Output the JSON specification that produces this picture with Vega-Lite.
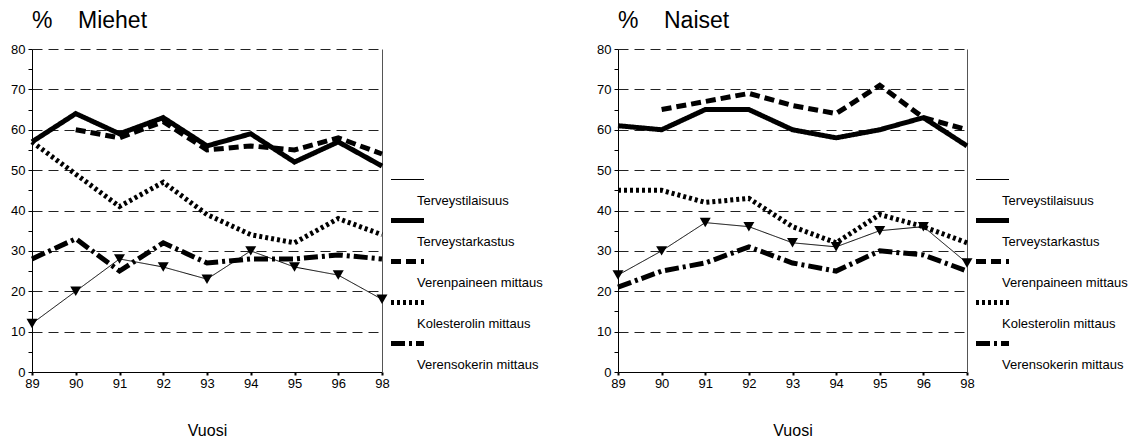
{
  "$schema": "https://vega.github.io/schema/vega-lite/v6.json",
  "padding": {"left": 10, "top": 10, "right": 5, "bottom": 5},
  "config": {"font": "Liberation Sans", "view": {"stroke": null}},
  "datasets": {
    "miehet": [
      {"s": "Terveystilaisuus", "x": "89", "v": 12}, {"s": "Terveystilaisuus", "x": "90", "v": 20}, {"s": "Terveystilaisuus", "x": "91", "v": 28}, {"s": "Terveystilaisuus", "x": "92", "v": 26}, {"s": "Terveystilaisuus", "x": "93", "v": 23}, {"s": "Terveystilaisuus", "x": "94", "v": 30}, {"s": "Terveystilaisuus", "x": "95", "v": 26}, {"s": "Terveystilaisuus", "x": "96", "v": 24}, {"s": "Terveystilaisuus", "x": "98", "v": 18},
      {"s": "Terveystarkastus", "x": "89", "v": 57}, {"s": "Terveystarkastus", "x": "90", "v": 64}, {"s": "Terveystarkastus", "x": "91", "v": 59}, {"s": "Terveystarkastus", "x": "92", "v": 63}, {"s": "Terveystarkastus", "x": "93", "v": 56}, {"s": "Terveystarkastus", "x": "94", "v": 59}, {"s": "Terveystarkastus", "x": "95", "v": 52}, {"s": "Terveystarkastus", "x": "96", "v": 57}, {"s": "Terveystarkastus", "x": "98", "v": 51},
      {"s": "Verenpaineen mittaus", "x": "90", "v": 60}, {"s": "Verenpaineen mittaus", "x": "91", "v": 58}, {"s": "Verenpaineen mittaus", "x": "92", "v": 62}, {"s": "Verenpaineen mittaus", "x": "93", "v": 55}, {"s": "Verenpaineen mittaus", "x": "94", "v": 56}, {"s": "Verenpaineen mittaus", "x": "95", "v": 55}, {"s": "Verenpaineen mittaus", "x": "96", "v": 58}, {"s": "Verenpaineen mittaus", "x": "98", "v": 54},
      {"s": "Kolesterolin mittaus", "x": "89", "v": 57}, {"s": "Kolesterolin mittaus", "x": "90", "v": 49}, {"s": "Kolesterolin mittaus", "x": "91", "v": 41}, {"s": "Kolesterolin mittaus", "x": "92", "v": 47}, {"s": "Kolesterolin mittaus", "x": "93", "v": 39}, {"s": "Kolesterolin mittaus", "x": "94", "v": 34}, {"s": "Kolesterolin mittaus", "x": "95", "v": 32}, {"s": "Kolesterolin mittaus", "x": "96", "v": 38}, {"s": "Kolesterolin mittaus", "x": "98", "v": 34},
      {"s": "Verensokerin mittaus", "x": "89", "v": 28}, {"s": "Verensokerin mittaus", "x": "90", "v": 33}, {"s": "Verensokerin mittaus", "x": "91", "v": 25}, {"s": "Verensokerin mittaus", "x": "92", "v": 32}, {"s": "Verensokerin mittaus", "x": "93", "v": 27}, {"s": "Verensokerin mittaus", "x": "94", "v": 28}, {"s": "Verensokerin mittaus", "x": "95", "v": 28}, {"s": "Verensokerin mittaus", "x": "96", "v": 29}, {"s": "Verensokerin mittaus", "x": "98", "v": 28}
    ],
    "naiset": [
      {"s": "Terveystilaisuus", "x": "89", "v": 24}, {"s": "Terveystilaisuus", "x": "90", "v": 30}, {"s": "Terveystilaisuus", "x": "91", "v": 37}, {"s": "Terveystilaisuus", "x": "92", "v": 36}, {"s": "Terveystilaisuus", "x": "93", "v": 32}, {"s": "Terveystilaisuus", "x": "94", "v": 31}, {"s": "Terveystilaisuus", "x": "95", "v": 35}, {"s": "Terveystilaisuus", "x": "96", "v": 36}, {"s": "Terveystilaisuus", "x": "98", "v": 27},
      {"s": "Terveystarkastus", "x": "89", "v": 61}, {"s": "Terveystarkastus", "x": "90", "v": 60}, {"s": "Terveystarkastus", "x": "91", "v": 65}, {"s": "Terveystarkastus", "x": "92", "v": 65}, {"s": "Terveystarkastus", "x": "93", "v": 60}, {"s": "Terveystarkastus", "x": "94", "v": 58}, {"s": "Terveystarkastus", "x": "95", "v": 60}, {"s": "Terveystarkastus", "x": "96", "v": 63}, {"s": "Terveystarkastus", "x": "98", "v": 56},
      {"s": "Verenpaineen mittaus", "x": "90", "v": 65}, {"s": "Verenpaineen mittaus", "x": "91", "v": 67}, {"s": "Verenpaineen mittaus", "x": "92", "v": 69}, {"s": "Verenpaineen mittaus", "x": "93", "v": 66}, {"s": "Verenpaineen mittaus", "x": "94", "v": 64}, {"s": "Verenpaineen mittaus", "x": "95", "v": 71}, {"s": "Verenpaineen mittaus", "x": "96", "v": 63}, {"s": "Verenpaineen mittaus", "x": "98", "v": 60},
      {"s": "Kolesterolin mittaus", "x": "89", "v": 45}, {"s": "Kolesterolin mittaus", "x": "90", "v": 45}, {"s": "Kolesterolin mittaus", "x": "91", "v": 42}, {"s": "Kolesterolin mittaus", "x": "92", "v": 43}, {"s": "Kolesterolin mittaus", "x": "93", "v": 36}, {"s": "Kolesterolin mittaus", "x": "94", "v": 32}, {"s": "Kolesterolin mittaus", "x": "95", "v": 39}, {"s": "Kolesterolin mittaus", "x": "96", "v": 36}, {"s": "Kolesterolin mittaus", "x": "98", "v": 32},
      {"s": "Verensokerin mittaus", "x": "89", "v": 21}, {"s": "Verensokerin mittaus", "x": "90", "v": 25}, {"s": "Verensokerin mittaus", "x": "91", "v": 27}, {"s": "Verensokerin mittaus", "x": "92", "v": 31}, {"s": "Verensokerin mittaus", "x": "93", "v": 27}, {"s": "Verensokerin mittaus", "x": "94", "v": 25}, {"s": "Verensokerin mittaus", "x": "95", "v": 30}, {"s": "Verensokerin mittaus", "x": "96", "v": 29}, {"s": "Verensokerin mittaus", "x": "98", "v": 25}
    ]
  },
  "bounds": "flush",
  "spacing": 236,
  "resolve": {"scale": {"strokeDash": "independent", "strokeWidth": "independent", "y": "independent", "x": "independent"}},
  "hconcat": [
    {
      "width": 350,
      "height": 323,
      "title": {"text": "%\u00a0\u00a0\u00a0\u00a0Miehet", "anchor": "start", "frame": "group", "fontSize": 23, "fontWeight": "normal", "color": "black", "offset": 10},
      "data": {"name": "miehet"},
      "resolve": {"axis": {"y": "independent"}},
      "layer": [
        {
          "mark": {"type": "line", "color": "black", "strokeCap": "butt", "strokeJoin": "miter"},
          "encoding": {
            "x": {"field": "x", "type": "ordinal", "scale": {"type": "point", "padding": 0}, "axis": {"title": "Vuosi", "labelAngle": 0, "titleFontSize": 16, "titleFontWeight": "normal", "titleColor": "black", "titlePadding": 32, "tickSize": 3, "tickWidth": 2, "tickColor": "black", "labelFontSize": 13, "labelColor": "black", "labelPadding": 2, "domainColor": "black", "grid": false}},
            "y": {"field": "v", "type": "quantitative", "scale": {"domain": [0, 80], "nice": false}, "axis": {"title": null, "values": [0, 5, 10, 15, 20, 25, 30, 35, 40, 45, 50, 55, 60, 65, 70, 75, 80], "labelExpr": "datum.value % 10 == 0 ? datum.label : ''", "labelOverlap": false, "labelFontSize": 13, "labelColor": "black", "labelPadding": 3, "tickSize": 4, "tickColor": "black", "domainColor": "black", "grid": true, "gridDash": [10, 6], "gridColor": "#222", "gridOpacity": {"condition": {"test": "datum.value % 10 == 0 && datum.value > 0", "value": 1}, "value": 0}}},
            "strokeDash": {"field": "s", "type": "nominal", "scale": {"type": "ordinal", "domain": ["Terveystilaisuus", "Terveystarkastus", "Verenpaineen mittaus", "Kolesterolin mittaus", "Verensokerin mittaus"], "range": [[1, 0], [1, 0], [10, 5], [3, 3], [14, 4, 3, 4]]}, "legend": {"title": null, "orient": "none", "legendX": 363, "legendY": 120, "symbolType": "M-1.65,0H1.65", "symbolSize": 400, "symbolStrokeColor": "black", "labelFontSize": 13, "labelColor": "black", "labelBaseline": "top", "labelExpr": "['', datum.label]", "rowPadding": 0, "labelOffset": -3, "padding": 0, "labelLimit": 300}},
            "strokeWidth": {"field": "s", "type": "nominal", "scale": {"type": "ordinal", "domain": ["Terveystilaisuus", "Terveystarkastus", "Verenpaineen mittaus", "Kolesterolin mittaus", "Verensokerin mittaus"], "range": [1, 5, 5, 5, 5]}, "legend": {"title": null, "orient": "none", "legendX": 363, "legendY": 120, "symbolType": "M-1.65,0H1.65", "symbolSize": 400, "symbolStrokeColor": "black", "labelFontSize": 13, "labelColor": "black", "labelBaseline": "top", "labelExpr": "['', datum.label]", "rowPadding": 0, "labelOffset": -3, "padding": 0, "labelLimit": 300}}
          }
        },
        {
          "transform": [{"filter": "datum.s == 'Terveystilaisuus'"}],
          "mark": {"type": "point", "shape": "triangle-down", "filled": true, "color": "black", "opacity": 1, "size": 120},
          "encoding": {
            "x": {"field": "x", "type": "ordinal"},
            "y": {"field": "v", "type": "quantitative", "axis": {"orient": "right", "labels": false, "ticks": false, "grid": false, "title": null, "domainColor": "#555"}}
          }
        }
      ]
    },
    {
      "width": 349,
      "height": 323,
      "title": {"text": "%\u00a0\u00a0\u00a0\u00a0Naiset", "anchor": "start", "frame": "group", "fontSize": 23, "fontWeight": "normal", "color": "black", "offset": 10},
      "data": {"name": "naiset"},
      "resolve": {"axis": {"y": "independent"}},
      "layer": [
        {
          "mark": {"type": "line", "color": "black", "strokeCap": "butt", "strokeJoin": "miter"},
          "encoding": {
            "x": {"field": "x", "type": "ordinal", "scale": {"type": "point", "padding": 0}, "axis": {"title": "Vuosi", "labelAngle": 0, "titleFontSize": 16, "titleFontWeight": "normal", "titleColor": "black", "titlePadding": 32, "tickSize": 3, "tickWidth": 2, "tickColor": "black", "labelFontSize": 13, "labelColor": "black", "labelPadding": 2, "domainColor": "black", "grid": false}},
            "y": {"field": "v", "type": "quantitative", "scale": {"domain": [0, 80], "nice": false}, "axis": {"title": null, "values": [0, 5, 10, 15, 20, 25, 30, 35, 40, 45, 50, 55, 60, 65, 70, 75, 80], "labelExpr": "datum.value % 10 == 0 ? datum.label : ''", "labelOverlap": false, "labelFontSize": 13, "labelColor": "black", "labelPadding": 3, "tickSize": 4, "tickColor": "black", "domainColor": "black", "grid": true, "gridDash": [10, 6], "gridColor": "#222", "gridOpacity": {"condition": {"test": "datum.value % 10 == 0 && datum.value > 0", "value": 1}, "value": 0}}},
            "strokeDash": {"field": "s", "type": "nominal", "scale": {"type": "ordinal", "domain": ["Terveystilaisuus", "Terveystarkastus", "Verenpaineen mittaus", "Kolesterolin mittaus", "Verensokerin mittaus"], "range": [[1, 0], [1, 0], [10, 5], [3, 3], [14, 4, 3, 4]]}, "legend": {"title": null, "orient": "none", "legendX": 362, "legendY": 120, "symbolType": "M-1.65,0H1.65", "symbolSize": 400, "symbolStrokeColor": "black", "labelFontSize": 13, "labelColor": "black", "labelBaseline": "top", "labelExpr": "['', datum.label]", "rowPadding": 0, "labelOffset": -3, "padding": 0, "labelLimit": 300}},
            "strokeWidth": {"field": "s", "type": "nominal", "scale": {"type": "ordinal", "domain": ["Terveystilaisuus", "Terveystarkastus", "Verenpaineen mittaus", "Kolesterolin mittaus", "Verensokerin mittaus"], "range": [1, 5, 5, 5, 5]}, "legend": {"title": null, "orient": "none", "legendX": 362, "legendY": 120, "symbolType": "M-1.65,0H1.65", "symbolSize": 400, "symbolStrokeColor": "black", "labelFontSize": 13, "labelColor": "black", "labelBaseline": "top", "labelExpr": "['', datum.label]", "rowPadding": 0, "labelOffset": -3, "padding": 0, "labelLimit": 300}}
          }
        },
        {
          "transform": [{"filter": "datum.s == 'Terveystilaisuus'"}],
          "mark": {"type": "point", "shape": "triangle-down", "filled": true, "color": "black", "opacity": 1, "size": 120},
          "encoding": {
            "x": {"field": "x", "type": "ordinal"},
            "y": {"field": "v", "type": "quantitative", "axis": {"orient": "right", "labels": false, "ticks": false, "grid": false, "title": null, "domainColor": "#555"}}
          }
        }
      ]
    }
  ]
}
